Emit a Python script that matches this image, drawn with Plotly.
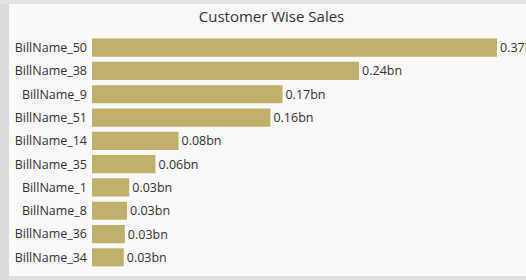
import plotly.graph_objects as go

categories = ["BillName_50", "BillName_38", "BillName_9", "BillName_51", "BillName_14",
              "BillName_35", "BillName_1", "BillName_8", "BillName_36", "BillName_34"]
sales_bn = [0.370, 0.244, 0.174, 0.163, 0.079, 0.058, 0.034, 0.032, 0.030, 0.029]
labels = [f"{v:.2f}bn" for v in sales_bn]

BAR = "#BFB06C"
FONT = "Open Sans, Noto Sans, sans-serif"
L, T, B = 92, 36, 11
PH = 280 - T - B

fig = go.Figure(go.Bar(
    y=categories, x=sales_bn, orientation="h",
    marker=dict(color=BAR, line=dict(width=0)),
    text=labels, textposition="outside", cliponaxis=False,
    textfont=dict(size=12.5, color="#333333", family=FONT),
    width=0.78,
))

fig.update_layout(
    width=526, height=280,
    margin=dict(l=L, r=0, t=T, b=B, pad=0, autoexpand=False),
    paper_bgcolor="#f9f9f9", plot_bgcolor="rgba(0,0,0,0)",
    title=dict(text="Customer Wise Sales", x=271.5/526, xanchor="center", y=1-17/280, yanchor="middle",
               font=dict(size=15, color="#333333", family=FONT)),
    xaxis=dict(range=[0, 0.3965], visible=False, showgrid=False, zeroline=False, automargin=False),
    yaxis=dict(categoryorder="array", categoryarray=categories, autorange="reversed", automargin=False,
               showgrid=False, zeroline=False, ticks="", ticklabelstandoff=4,
               tickfont=dict(size=12.5, color="#333333", family=FONT)),
    showlegend=False, bargap=0.22,
    shapes=[
        dict(type="rect", xref="paper", yref="paper", x0=-L/434, x1=-(L-9)/434, y0=-0.2, y1=1.3,
             fillcolor="#dcdcdc", line=dict(width=0), layer="below"),
        dict(type="rect", xref="paper", yref="paper", x0=-0.3, x1=1.1, y0=1+(T-4)/PH, y1=1.3,
             fillcolor="#e2e2e2", line=dict(width=0), layer="below"),
        dict(type="rect", xref="paper", yref="paper", x0=-0.3, x1=1.1, y0=-0.2, y1=-(276-(280-B))/PH,
             fillcolor="#dddddd", line=dict(width=0), layer="below"),
    ],
)

fig.write_html("out.html", config={"displayModeBar": False},
               post_script="document.body.style.margin='0';document.body.style.overflow='hidden';")
